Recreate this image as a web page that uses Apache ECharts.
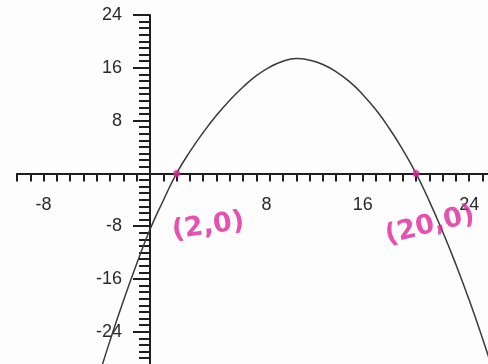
<!DOCTYPE html>
<html>
<head>
<meta charset="utf-8">
<script src="https://cdn.jsdelivr.net/npm/echarts@6/dist/echarts.min.js"></script>
<style>
  html, body { margin: 0; padding: 0; background: #fdfdfd; }
  #chart { width: 488px; height: 364px; }
</style>
</head>
<body>
<div id="chart"></div>
<script>
// Points along the parabola
const xValues = [-4, -3, -2, -1, 0, 1, 2, 3, 4, 5, 6, 7, 8, 9, 10, 11, 12, 13, 14, 15, 16, 17, 18, 19, 20, 21, 22, 23, 24, 25, 26];
const yValues = [-31.7, -25.3, -19.3, -13.7, -8.5, -4.1, 0, 3.3, 6.2, 8.8, 11.1, 13.1, 14.8, 16.1, 17.0, 17.4, 17.15, 16.5, 15.4, 13.9, 11.95, 9.6, 6.8, 3.6, 0, -4.2, -8.8, -13.8, -19.2, -25.0, -31.2];

// Marked x-intercepts
const rootX = [2, 20];
const rootY = [0, 0];
const rootLabels = ['(2,0)', '(20,0)'];

// Axis tick labels
const xTickLabels = [-8, 8, 16, 24];
const yTickLabels = [-24, -16, -8, 8, 16, 24];

// Plot frame (pixels) and axis ranges
const W = 488, H = 364;
const X_MIN = -10, X_MAX = 26, Y_MIN = -32, Y_MAX = 24;
const LEFT = 17, TOP = 15, PX_X = 13.3, PX_Y = 6.6;
const gridRight = W - (LEFT + (X_MAX - X_MIN) * PX_X);
const gridBottom = H - (TOP + (Y_MAX - Y_MIN) * PX_Y);
// Axes cross at the origin
const xAxisOffset = -((Y_MAX - Y_MIN) * PX_Y - Y_MAX * PX_Y);
const yAxisOffset = -((0 - X_MIN) * PX_X);

const curve = xValues.map((x, i) => [x, yValues[i]]);
const labelOffsets = [[24, 57], [1, 54]];
const labelTilts = [8, 14];
const roots = rootX.map((x, i) => ({
  value: [x, rootY[i]],
  label: {
    show: true,
    formatter: rootLabels[i],
    position: 'inside',
    align: 'center',
    verticalAlign: 'middle',
    offset: labelOffsets[i],
    rotate: labelTilts[i]
  }
}));

const axisColor = '#1e1e1e';
const labelFont = { fontFamily: 'Liberation Sans, Arial, sans-serif', fontSize: 18, color: '#2a2a2a' };

const chart = echarts.init(document.getElementById('chart'));
chart.setOption({
  backgroundColor: '#fdfdfd',
  animation: false,
  grid: {
    left: LEFT, right: gridRight, top: TOP, bottom: gridBottom,
    containLabel: false,
    outerBoundsMode: 'none'
  },
  xAxis: {
    type: 'value',
    min: X_MIN,
    max: X_MAX,
    interval: 1,
    position: 'bottom',
    offset: xAxisOffset,
    splitLine: { show: false },
    axisLine: { show: true, onZero: false, lineStyle: { color: axisColor, width: 2 } },
    axisTick: { show: true, length: 8, lineStyle: { color: axisColor, width: 2 } },
    axisLabel: {
      margin: 23,
      ...labelFont,
      formatter: v => {
        if (!xTickLabels.includes(v)) return '';
        return v === 8 ? '{s|8}' : String(v);
      },
      rich: { s: { ...labelFont, padding: [0, 0, 0, 20] } }
    }
  },
  yAxis: {
    type: 'value',
    min: Y_MIN,
    max: Y_MAX,
    interval: 8,
    position: 'left',
    offset: yAxisOffset,
    splitLine: { show: false },
    axisLine: { show: true, onZero: false, lineStyle: { color: axisColor, width: 2 } },
    axisTick: { show: true, length: 17, lineStyle: { color: axisColor, width: 2 } },
    minorTick: { show: true, splitNumber: 8, length: 11, lineStyle: { color: axisColor, width: 2 } },
    axisLabel: {
      margin: 28,
      ...labelFont,
      formatter: v => (yTickLabels.includes(v) ? String(v) : '')
    }
  },
  series: [
    {
      type: 'line',
      data: curve,
      smooth: true,
      showSymbol: false,
      lineStyle: { color: '#3a3a3a', width: 1.5 },
      z: 3
    },
    {
      type: 'scatter',
      data: roots,
      symbolSize: 7,
      itemStyle: { color: '#e0269c' },
      label: {
        color: '#e0269c',
        fontFamily: 'DejaVu Sans, sans-serif',
        fontSize: 27,
        fontWeight: 'bold'
      },
      z: 4
    }
  ]
});
</script>
</body>
</html>
